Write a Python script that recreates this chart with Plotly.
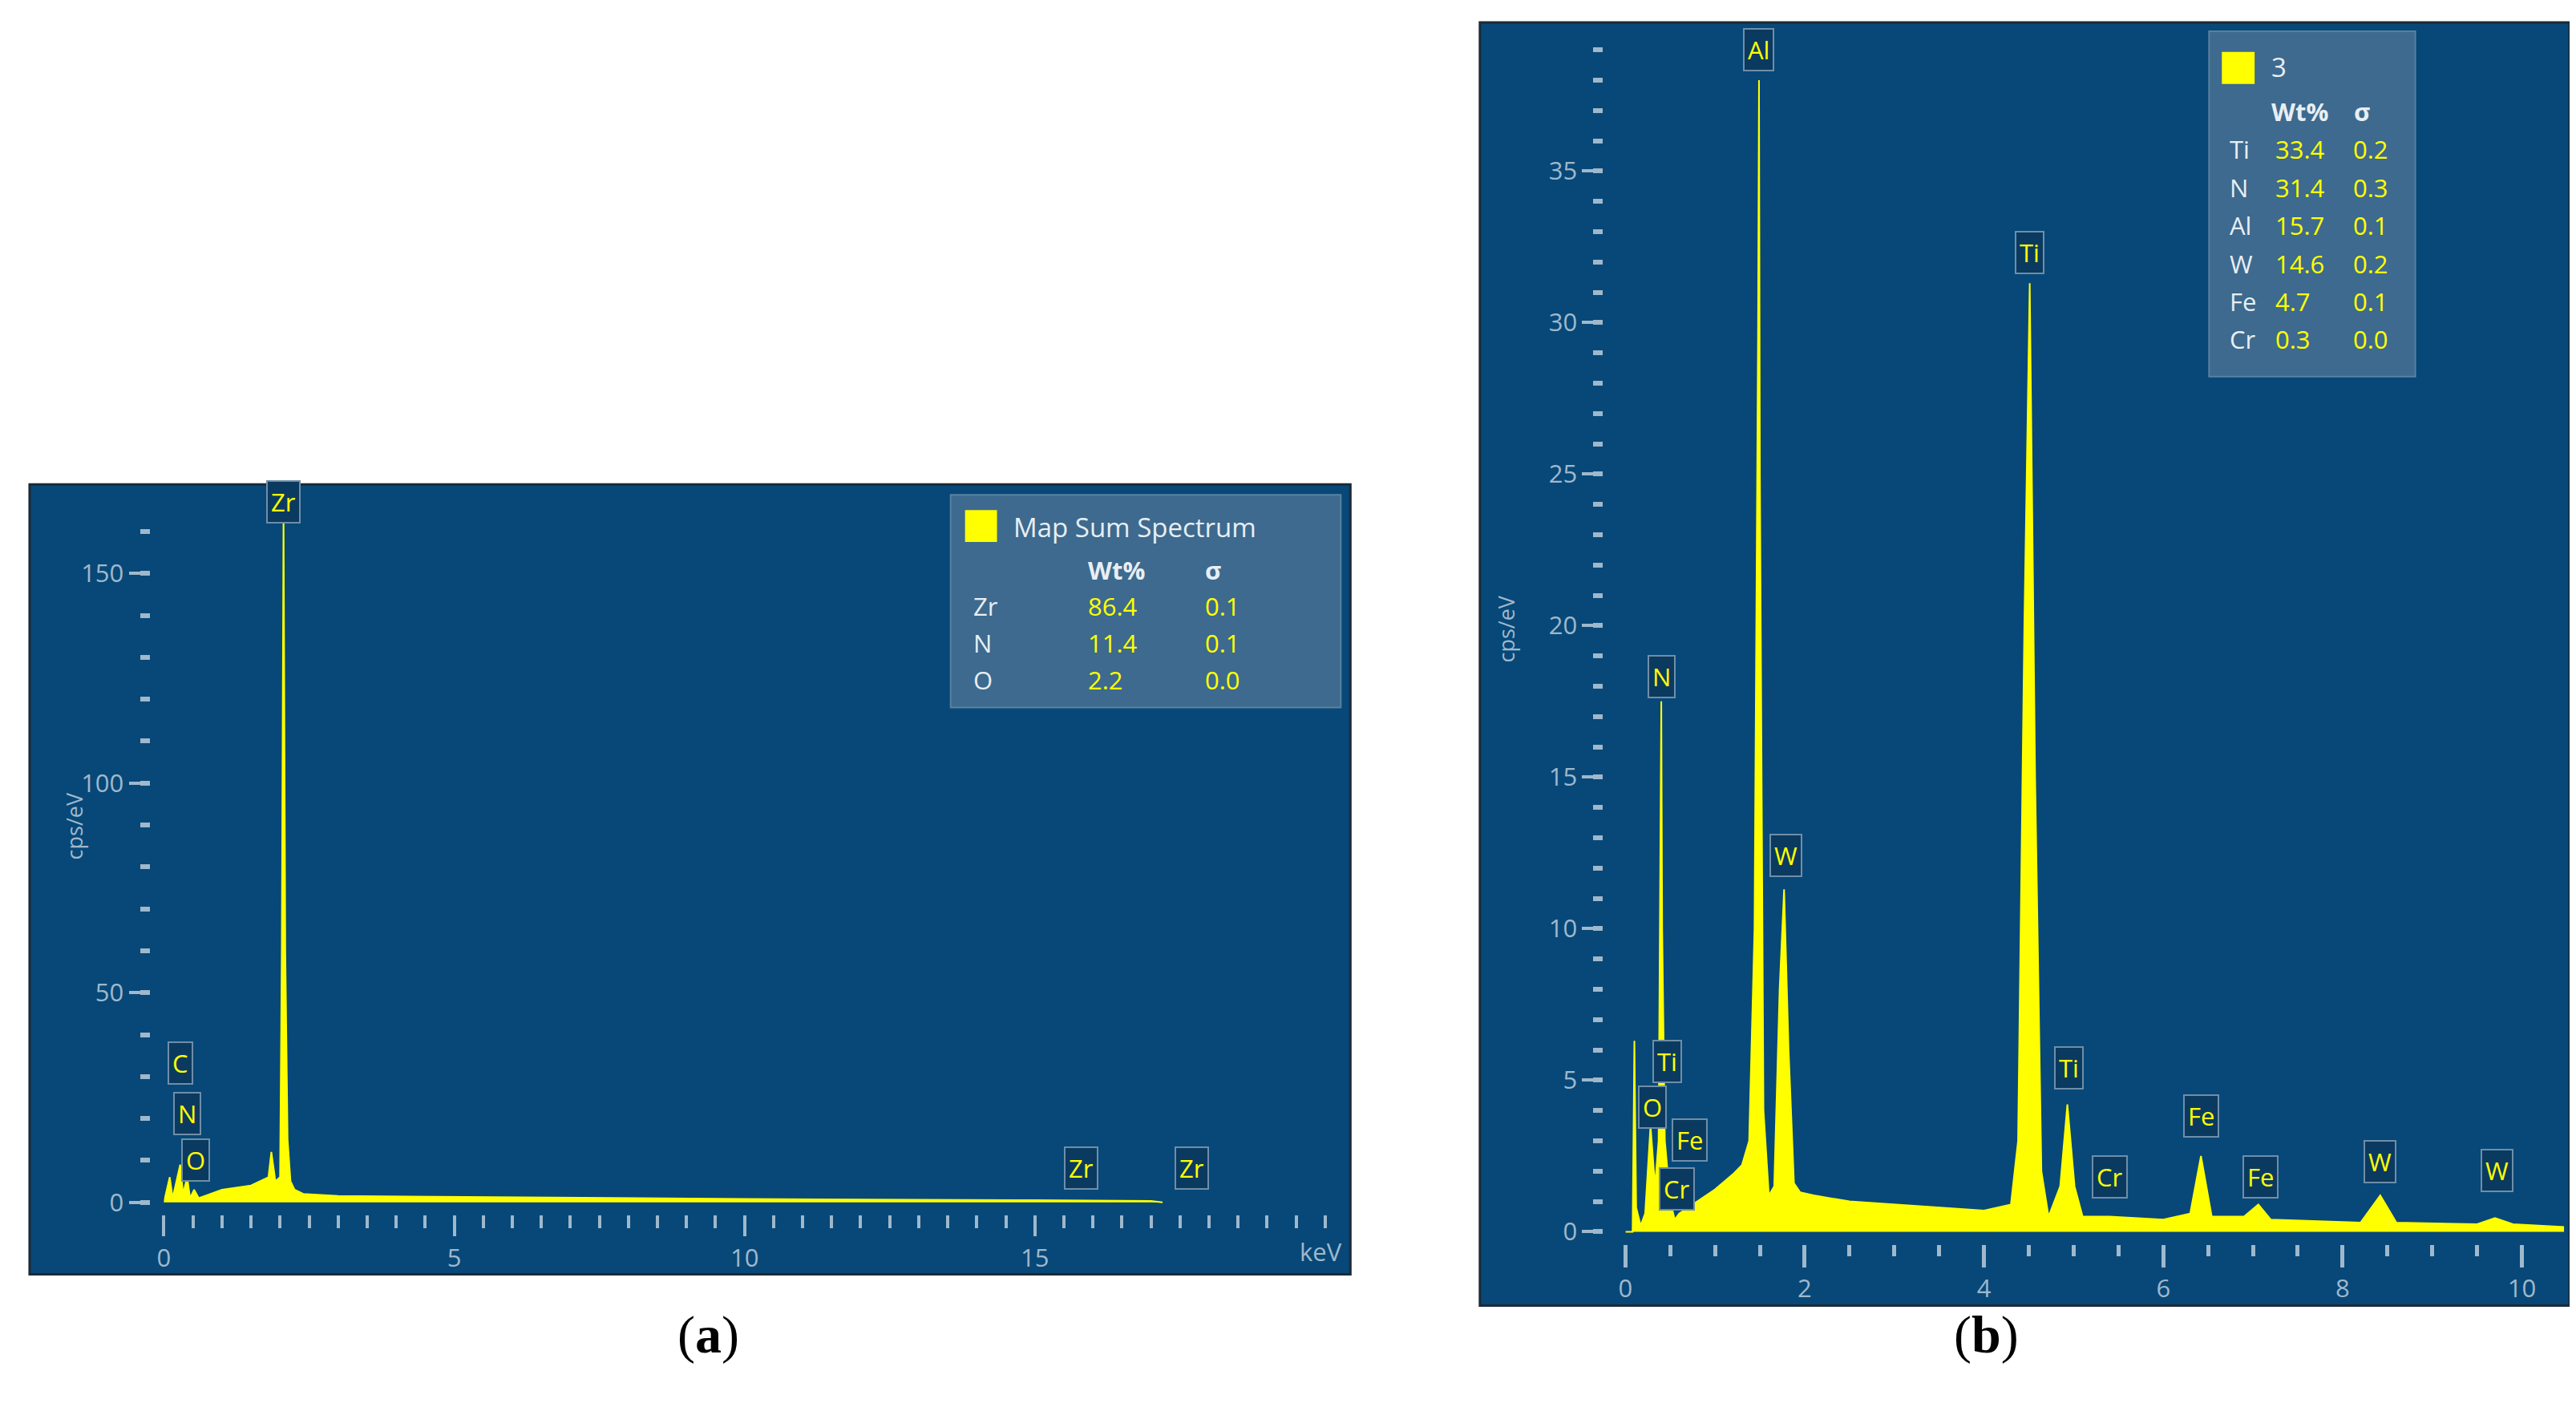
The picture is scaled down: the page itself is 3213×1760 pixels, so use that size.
import plotly.graph_objects as go

# ---------- data ----------
a_kev = [0, 0.1, 0.15, 0.2, 0.28, 0.33, 0.4, 0.45, 0.52, 0.6, 0.8, 1.0, 1.5, 1.8, 1.85, 1.92, 2.0, 2.03, 2.06, 2.09, 2.13, 2.18, 2.25, 2.4, 3, 5, 10, 15, 17, 17.2]
a_cps = [0, 6, 1, 4, 9, 2, 6, 1, 3, 1, 2, 3, 4, 6, 12, 5, 6, 60, 165, 60, 15, 5, 3, 2, 1.5, 1.3, 0.8, 0.5, 0.3, 0]
a_peak_labels = ["Zr", "C", "N", "O", "Zr", "Zr"]
a_peak_x = [2.06, 0.28, 0.4, 0.55, 15.8, 17.7]
a_peak_y = [162, 28, 16, 5, 3, 3]
a_elements = ["Zr", "N", "O"]
a_wt = ["86.4", "11.4", "2.2"]
a_sigma = ["0.1", "0.1", "0.0"]
a_yticks = [0, 50, 100, 150]
a_xticks = [0, 5, 10, 15]

b_kev = [0, 0.08, 0.1, 0.12, 0.17, 0.22, 0.28, 0.33, 0.37, 0.39, 0.40, 0.41, 0.44, 0.5, 0.55, 0.6, 0.7, 0.8, 1.0, 1.2, 1.3, 1.38, 1.44, 1.48, 1.49, 1.5, 1.54, 1.6, 1.66, 1.72, 1.77, 1.82, 1.88, 1.95, 2.1, 2.5, 4.0, 4.3, 4.38, 4.45, 4.51, 4.57, 4.64, 4.72, 4.85, 4.93, 5.01, 5.1, 5.4, 6.0, 6.3, 6.42, 6.54, 6.9, 7.06, 7.2, 8.2, 8.42, 8.6, 9.5, 9.7, 9.9, 10.5]
b_cps = [0, 0, 6.3, 0.8, 0.2, 0.6, 3.5, 1.5, 3, 14, 17.5, 10, 3, 1, 0.4, 0.6, 0.8, 1.0, 1.4, 1.9, 2.2, 3, 10, 30, 38, 25, 4, 1.2, 1.5, 8, 11.3, 6, 1.6, 1.3, 1.2, 1.0, 0.7, 0.9, 3, 20, 31.3, 15, 2, 0.5, 1.5, 4.2, 1.5, 0.5, 0.5, 0.4, 0.6, 2.5, 0.5, 0.5, 0.9, 0.4, 0.3, 1.2, 0.3, 0.25, 0.45, 0.25, 0.15]
b_peak_labels = ["Al", "N", "Ti", "O", "Fe", "Cr", "W", "Ti", "Ti", "Cr", "Fe", "Fe", "W", "W"]
b_peak_x = [1.49, 0.4, 0.47, 0.3, 0.72, 0.57, 1.79, 4.51, 4.95, 5.4, 6.42, 7.08, 8.42, 9.72]
b_peak_y = [38.3, 17.6, 4.9, 3.4, 2.3, 0.7, 11.7, 31.6, 4.7, 1.1, 3.1, 1.1, 1.6, 1.3]
b_elements = ["Ti", "N", "Al", "W", "Fe", "Cr"]
b_wt = ["33.4", "31.4", "15.7", "14.6", "4.7", "0.3"]
b_sigma = ["0.2", "0.3", "0.1", "0.2", "0.1", "0.0"]
b_yticks = [0, 5, 10, 15, 20, 25, 30, 35]
b_xticks = [0, 2, 4, 6, 8, 10]

W, H = 3213, 1760
BG = "#074878"
TICK = "#9fb8cc"
YEL = "#ffff00"
def px(x): return x / W
def py(y): return 1 - y / H

fig = go.Figure()
fig.add_trace(go.Scatter(x=a_kev, y=a_cps, fill="tozeroy", mode="lines", line=dict(color=YEL, width=2),
                         fillcolor=YEL, xaxis="x", yaxis="y", showlegend=False))
fig.add_trace(go.Scatter(x=b_kev, y=b_cps, fill="tozeroy", mode="lines", line=dict(color=YEL, width=2),
                         fillcolor=YEL, xaxis="x2", yaxis="y2", showlegend=False))

shapes = []
shapes.append(dict(type="rect", xref="paper", yref="paper", x0=px(20), x1=px(1672), y0=py(1586), y1=py(598),
                   fillcolor=BG, line=dict(color="#1c2a36", width=3), layer="below"))
shapes.append(dict(type="rect", xref="paper", yref="paper", x0=px(1834), x1=px(3197), y0=py(1625), y1=py(20),
                   fillcolor=BG, line=dict(color="#1c2a36", width=3), layer="below"))
shapes.append(dict(type="rect", xref="paper", yref="paper", x0=px(1172), x1=px(1660), y0=py(877), y1=py(611),
                   fillcolor="#3d6a8e", line=dict(color="#5a81a0", width=2), layer="below"))
shapes.append(dict(type="rect", xref="paper", yref="paper", x0=px(1190), x1=px(1230), y0=py(670), y1=py(630),
                   fillcolor=YEL, line=dict(width=0)))
shapes.append(dict(type="rect", xref="paper", yref="paper", x0=px(2746), x1=px(3004), y0=py(463), y1=py(31),
                   fillcolor="#3d6a8e", line=dict(color="#5a81a0", width=2), layer="below"))
shapes.append(dict(type="rect", xref="paper", yref="paper", x0=px(2762), x1=px(2803), y0=py(97), y1=py(57),
                   fillcolor=YEL, line=dict(width=0)))

ann = []
F = "Open Sans"
def txt(x, y, s, color="#e8eef4", size=31, xa="left", bold=False):
    ann.append(dict(xref="paper", yref="paper", x=px(x), y=py(y), text=(f"<b>{s}</b>" if bold else s),
                    showarrow=False, xanchor=xa, yanchor="middle", font=dict(family=F, size=size, color=color)))

txt(1248, 651, "Map Sum Spectrum", size=33)
txt(1342, 705, "Wt%", bold=True)
txt(1488, 705, "σ", bold=True)
for i, (e, w, s) in enumerate(zip(a_elements, a_wt, a_sigma)):
    yy = 750 + i * 46
    txt(1198, yy, e)
    txt(1342, yy, w, color=YEL)
    txt(1488, yy, s, color=YEL)
txt(2822, 76, "3", size=33)
txt(2822, 131, "Wt%", bold=True)
txt(2925, 131, "σ", bold=True)
for i, (e, w, s) in enumerate(zip(b_elements, b_wt, b_sigma)):
    yy = 179 + i * 47.5
    txt(2770, yy, e)
    txt(2827, yy, w, color=YEL)
    txt(2924, yy, s, color=YEL)

for lab, x, y in zip(a_peak_labels, a_peak_x, a_peak_y):
    ann.append(dict(xref="x", yref="y", x=x, y=y, text=lab, showarrow=False, yanchor="bottom",
                    font=dict(family=F, size=31, color=YEL), bgcolor="#0b3a60", bordercolor="#6f8ea8",
                    borderwidth=2, borderpad=4))
for lab, x, y in zip(b_peak_labels, b_peak_x, b_peak_y):
    ann.append(dict(xref="x2", yref="y2", x=x, y=y, text=lab, showarrow=False, yanchor="bottom",
                    font=dict(family=F, size=31, color=YEL), bgcolor="#0b3a60", bordercolor="#6f8ea8",
                    borderwidth=2, borderpad=4))

ann.append(dict(xref="paper", yref="paper", x=px(55), y=py(1025), text="cps/eV", textangle=-90, showarrow=False,
                font=dict(family=F, size=27, color=TICK)))
ann.append(dict(xref="paper", yref="paper", x=px(1867), y=py(779), text="cps/eV", textangle=-90, showarrow=False,
                font=dict(family=F, size=27, color=TICK)))
txt(1635, 1557, "keV", color=TICK, size=31, xa="center")
ann.append(dict(xref="paper", yref="paper", x=px(828), y=py(1701), text="(<b>a</b>)", showarrow=False,
                font=dict(family="Liberation Serif", size=66, color="black")))
ann.append(dict(xref="paper", yref="paper", x=px(2510), y=py(1701), text="(<b>b</b>)", showarrow=False,
                font=dict(family="Liberation Serif", size=66, color="black")))

tickfont = dict(family=F, size=31, color=TICK)
fig.update_layout(
    width=W, height=H, margin=dict(l=0, r=0, t=0, b=0),
    paper_bgcolor="white", plot_bgcolor="rgba(0,0,0,0)",
    shapes=shapes, annotations=ann,
    xaxis=dict(domain=[px(188), px(1660)], range=[0, 20.27], anchor="y", showgrid=False, zeroline=False,
               tickvals=a_xticks, ticks="outside", ticklen=26, tickwidth=4, tickcolor=TICK, tickfont=tickfont,
               minor=dict(dtick=0.5, ticks="outside", ticklen=16, tickwidth=4, tickcolor=TICK), showline=False),
    yaxis=dict(domain=[0.1411, 0.6557], range=[-3, 169.7], anchor="free", position=px(170), showgrid=False,
               zeroline=False, tickvals=a_yticks, ticks="outside", ticklen=26, tickwidth=4, tickcolor=TICK,
               tickfont=tickfont, minor=dict(dtick=10, ticks="outside", ticklen=12, tickwidth=6, tickcolor=TICK)),
    xaxis2=dict(domain=[px(2016), px(3190)], range=[0, 10.47], anchor="y2", showgrid=False, zeroline=False,
                tickvals=b_xticks, ticks="outside", ticklen=28, tickwidth=5, tickcolor=TICK, tickfont=tickfont,
                minor=dict(dtick=0.5, ticks="outside", ticklen=14, tickwidth=5, tickcolor=TICK)),
    yaxis2=dict(domain=[0.1205, 0.9864], range=[-0.4, 39.8], anchor="free", position=px(1988), showgrid=False,
                zeroline=False, tickvals=b_yticks, ticks="outside", ticklen=26, tickwidth=4, tickcolor=TICK,
                tickfont=tickfont, minor=dict(dtick=1, ticks="outside", ticklen=12, tickwidth=6, tickcolor=TICK)),
)
fig.write_html("out.html")
